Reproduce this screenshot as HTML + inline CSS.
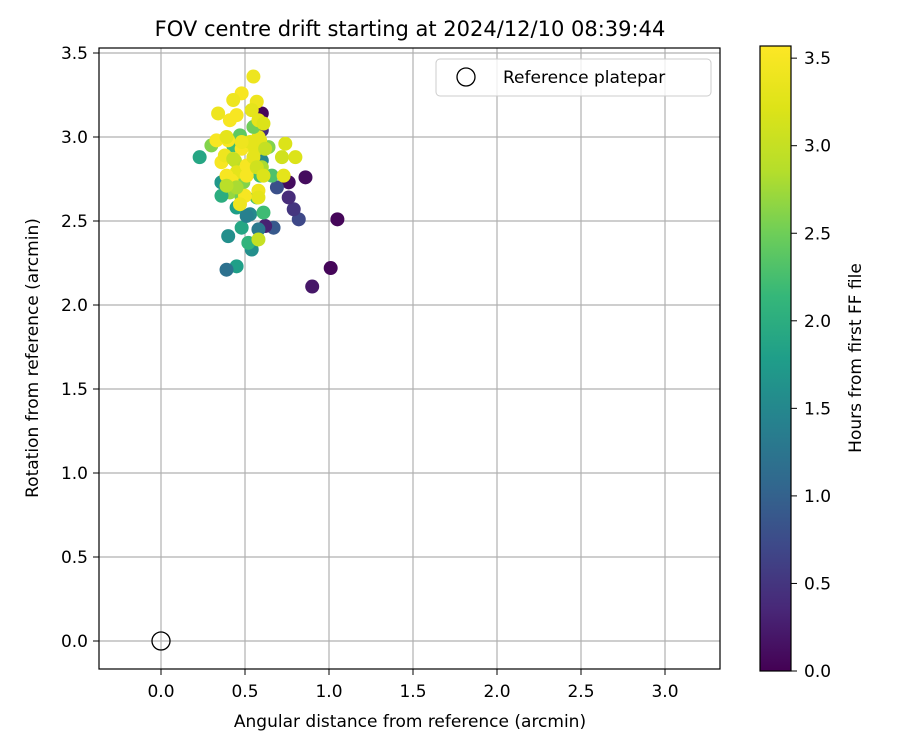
<!DOCTYPE html>
<html><head><meta charset="utf-8"><style>
body{margin:0;background:#fff;}
svg{display:block;font-family:"DejaVu Sans","Liberation Sans",sans-serif;}
</style></head><body>
<svg id="chart" width="900" height="750" viewBox="0 0 900 750">
<defs>
<linearGradient id="viridis" x1="0" y1="1" x2="0" y2="0">
<stop offset="0" stop-color="#440154"/><stop offset="0.1" stop-color="#482878"/><stop offset="0.2" stop-color="#3e4989"/><stop offset="0.3" stop-color="#31688e"/><stop offset="0.4" stop-color="#26828e"/><stop offset="0.5" stop-color="#1f9e89"/><stop offset="0.6" stop-color="#35b779"/><stop offset="0.7" stop-color="#6ece58"/><stop offset="0.8" stop-color="#b5de2b"/><stop offset="0.9" stop-color="#dde318"/><stop offset="1" stop-color="#fde725"/>
</linearGradient>
<clipPath id="plotclip"><rect x="99" y="48" width="621" height="621"/></clipPath>
</defs>
<text x="410" y="36" text-anchor="middle" font-size="21">FOV centre drift starting at 2024/12/10 08:39:44</text>
<g id="grid"></g>
<g id="points" clip-path="url(#plotclip)"></g>
<rect x="99" y="48" width="621" height="621" fill="none" stroke="#000" stroke-width="1.2"/>
<g id="xticks"></g><g id="yticks"></g>
<text x="410" y="727" text-anchor="middle" font-size="17">Angular distance from reference (arcmin)</text>
<text transform="translate(38,358) rotate(-90)" text-anchor="middle" font-size="17">Rotation from reference (arcmin)</text>
<g>
<rect x="436" y="59" width="275" height="37" rx="4" fill="#fff" fill-opacity="0.8" stroke="#ccc"/>
<circle cx="466" cy="77" r="9" fill="none" stroke="#000" stroke-width="1.3"/>
<text x="503" y="83" font-size="17">Reference platepar</text>
</g>
<rect x="760" y="46" width="31" height="625" fill="url(#viridis)" stroke="#000" stroke-width="1.2"/>
<g id="cticks"></g>
<text transform="translate(861,358) rotate(-90)" text-anchor="middle" font-size="17">Hours from first FF file</text>
</svg>
<script>
const xs=[1.05,1.01,0.90,0.86,0.82,0.79,0.76,0.76,0.69,0.60,0.60,0.67,0.62,0.23,0.40,0.45,0.39,0.54,0.52,0.48,0.53,0.61,0.45,0.36,0.47,0.64,0.66,0.59,0.60,0.41,0.48,0.57,0.60,0.49,0.44,0.43,0.30,0.51,0.58,0.36,0.36,0.55,0.58,0.55,0.48,0.43,0.34,0.41,0.45,0.57,0.54,0.33,0.40,0.48,0.56,0.58,0.61,0.59,0.53,0.74,0.72,0.80,0.73,0.58,0.58,0.50,0.45,0.51,0.39,0.36,0.38,0.47,0.58,0.42,0.51,0.55,0.48,0.39,0.62,0.43,0.57,0.45,0.39,0.61];
const ys=[2.51,2.22,2.11,2.76,2.51,2.57,2.64,2.73,2.70,3.14,3.04,2.46,2.47,2.88,2.41,2.23,2.21,2.33,2.37,2.46,2.54,2.55,2.58,2.73,3.01,2.94,2.77,2.77,2.86,2.67,2.64,2.64,2.82,2.73,2.86,2.95,2.95,2.53,2.45,2.65,2.73,3.36,3.00,3.06,3.26,3.22,3.14,3.10,3.13,3.21,3.16,2.98,2.98,2.93,2.92,3.10,3.08,2.98,2.97,2.96,2.88,2.88,2.77,2.68,2.64,2.65,2.79,2.77,2.77,2.85,2.89,2.60,2.39,2.74,2.83,2.88,2.97,3.00,2.93,2.87,2.82,2.70,2.71,2.77];
const hrs=[0.05,0.05,0.2,0.1,0.7,0.5,0.4,0.1,0.8,0.05,0.4,0.9,0.3,1.9,1.6,1.8,1.2,1.6,2.1,1.9,1.5,2.2,1.8,1.9,2.4,2.6,2.3,2.2,1.5,2.7,2.5,2.3,2.8,2.6,2.9,2.2,2.6,1.4,1.3,2.0,1.7,3.4,3.3,2.5,3.5,3.4,3.4,3.5,3.5,3.4,3.3,3.5,3.5,3.5,3.3,3.3,3.2,3.3,3.3,3.2,3.1,3.2,3.3,3.4,3.3,3.5,3.3,3.5,3.5,3.5,3.4,3.4,3.0,3.5,3.5,3.3,3.4,3.3,3.0,3.0,3.1,2.8,2.9,3.2];
const xTicks=[0.0,0.5,1.0,1.5,2.0,2.5,3.0];
const yTicks=[0.0,0.5,1.0,1.5,2.0,2.5,3.0,3.5];
const cTicks=[0.0,0.5,1.0,1.5,2.0,2.5,3.0,3.5];
const cMax=3.57;
const NS="http://www.w3.org/2000/svg";
function X(v){return 161+v*168;}
function Y(v){return 641-v*168;}
function C(v){return 671-v*175.1;}
const vir=[[68,1,84],[72,40,120],[62,73,137],[49,104,142],[38,130,142],[31,158,137],[53,183,121],[110,206,88],[181,222,43],[221,227,24],[253,231,37]];
function color(h){let t=Math.max(0,Math.min(1,h/cMax))*10;let i=Math.min(9,Math.floor(t));let f=t-i;let a=vir[i],b=vir[i+1];return `rgb(${a.map((c,k)=>Math.round(c+(b[k]-c)*f)).join(',')})`;}
function mk(tag,attrs,parent){const e=document.createElementNS(NS,tag);for(const k in attrs)e.setAttribute(k,attrs[k]);parent.appendChild(e);return e;}
const grid=document.getElementById('grid'),xt=document.getElementById('xticks'),yt=document.getElementById('yticks'),ct=document.getElementById('cticks'),pts=document.getElementById('points');
xTicks.forEach(v=>{
 const g=mk('line',{x1:X(v),x2:X(v),y1:48,y2:669,stroke:'#b0b0b0','stroke-width':1.2},grid);
 
 
 const t=mk('line',{x1:X(v),x2:X(v),y1:669,y2:675,stroke:'#000'},xt);
 
 
 const l=mk('text',{x:X(v),y:697,'text-anchor':'middle','font-size':17},xt);
 l.textContent=v.toFixed(1);
 
 
});
yTicks.forEach(v=>{
 const g=mk('line',{x1:99,x2:720,y1:Y(v),y2:Y(v),stroke:'#b0b0b0','stroke-width':1.2},grid);
 
 
 const t=mk('line',{x1:93,x2:99,y1:Y(v),y2:Y(v),stroke:'#000'},yt);
 
 
 const l=mk('text',{x:88,y:Y(v)+6,'text-anchor':'end','font-size':17},yt);
 l.textContent=v.toFixed(1);
 
 
});
cTicks.forEach(v=>{
 const t=mk('line',{x1:791,x2:797,y1:C(v),y2:C(v),stroke:'#000'},ct);
 
 
 const l=mk('text',{x:804,y:C(v)+6,'font-size':17},ct);
 l.textContent=v.toFixed(1);
 
 
});
xs.forEach((x,i)=>{
 const c=mk('circle',{cx:X(x),cy:Y(ys[i]),r:7,fill:color(hrs[i])},pts);
 
 
});
const ref=mk('circle',{cx:X(0),cy:Y(0),r:9,fill:'none',stroke:'#000','stroke-width':1.3},pts);


</script>
</body></html>
